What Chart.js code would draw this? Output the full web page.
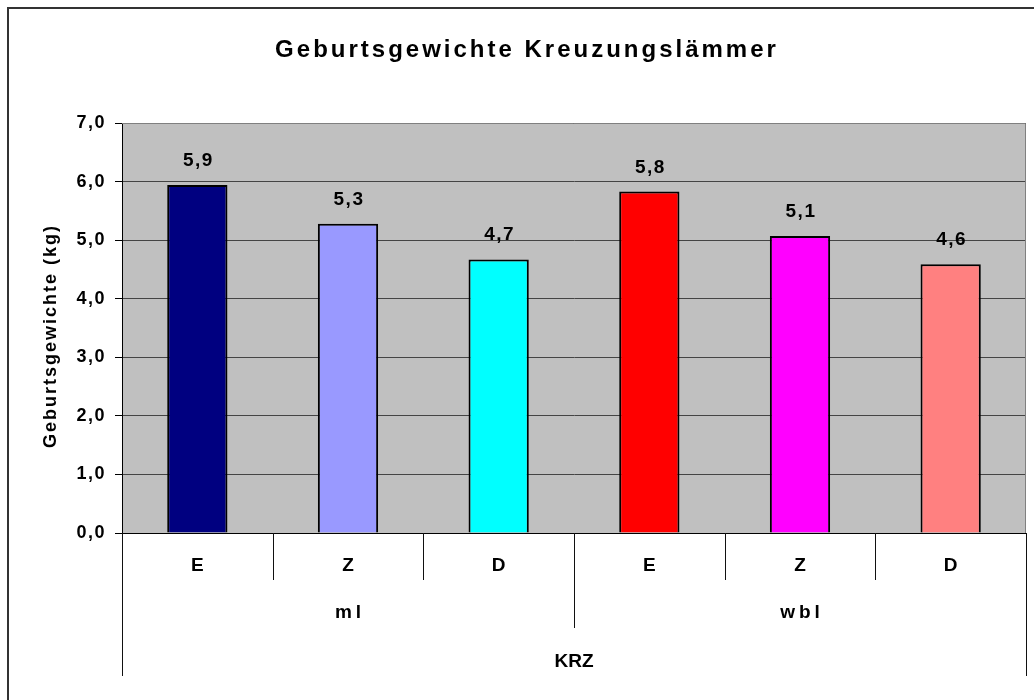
<!DOCTYPE html>
<html><head><meta charset="utf-8">
<script src="https://cdn.jsdelivr.net/npm/chart.js@4"></script>
<style>html,body{margin:0;padding:0;background:#fff}canvas{display:block}</style>
</head><body>
<canvas id="c" width="1034" height="700"></canvas>
<script>
const titleText = 'Geburtsgewichte Kreuzungslämmer';
const yAxisTitle = 'Geburtsgewichte (kg)';
const categories = ['E', 'Z', 'D', 'E', 'Z', 'D'];
const groups = ['ml', 'wbl'];
const groupSizes = [3, 3];
const outerLabel = 'KRZ';
const values = [5.94, 5.28, 4.67, 5.83, 5.07, 4.59];
const barColors = ['#000080', '#9999FF', '#00FFFF', '#FF0000', '#FF00FF', '#FF8080'];
const yMin = 0, yMax = 7, yStep = 1;

const FONT = "'Liberation Sans', Arial, sans-serif";
const fmt = v => v.toFixed(1).replace('.', ',');

const decor = {
  id: 'decor',
  beforeDraw(chart) {
    const {ctx, chartArea: a} = chart;
    ctx.save();
    ctx.fillStyle = '#fff';
    ctx.fillRect(0, 0, chart.width, chart.height);
    ctx.fillStyle = '#C0C0C0';
    ctx.fillRect(a.left, a.top, a.right - a.left, a.bottom - a.top);
    ctx.restore();
    ctx.letterSpacing = '1.5px';
  },
  beforeDatasetsDraw(chart) {
    const {ctx, chartArea: a} = chart;
    ctx.save();
    ctx.strokeStyle = '#808080';
    ctx.lineWidth = 1;
    ctx.beginPath();
    ctx.moveTo(a.left, a.top + 0.5);
    ctx.lineTo(a.right - 0.5, a.top + 0.5);
    ctx.lineTo(a.right - 0.5, a.bottom);
    ctx.stroke();
    ctx.restore();
  },
  afterDraw(chart) {
    const {ctx, chartArea: a} = chart;
    const xs = chart.scales.x;
    ctx.save();
    // outer frame
    ctx.strokeStyle = '#333';
    ctx.lineWidth = 2;
    ctx.beginPath();
    ctx.moveTo(8, chart.height);
    ctx.lineTo(8, 8);
    ctx.lineTo(chart.width, 8);
    ctx.stroke();

    ctx.fillStyle = '#000';
    // title
    ctx.font = 'bold 24px ' + FONT;
    ctx.letterSpacing = '3px';
    ctx.textAlign = 'center';
    ctx.textBaseline = 'alphabetic';
    ctx.fillText(titleText, 527, 57);

    // y axis title
    ctx.save();
    ctx.font = 'bold 18px ' + FONT;
    ctx.letterSpacing = '2px';
    ctx.translate(51, (a.top + a.bottom) / 2 + 8);
    ctx.rotate(-Math.PI / 2);
    ctx.textBaseline = 'middle';
    ctx.fillText(yAxisTitle, 0, 0);
    ctx.restore();

    // value labels
    ctx.font = 'bold 19px ' + FONT;
    ctx.letterSpacing = '1.5px';
    const meta = chart.getDatasetMeta(0);
    meta.data.forEach((el, i) => {
      ctx.fillText(fmt(values[i]), el.x + 1, el.y - 19);
    });

    // category separators
    const n = categories.length;
    const half = (xs.getPixelForValue(1) - xs.getPixelForValue(0)) / 2;
    const bx = k => xs.getPixelForValue(0) - half + 2 * half * k;
    const groupBounds = [0];
    groupSizes.forEach(s => groupBounds.push(groupBounds[groupBounds.length - 1] + s));
    ctx.strokeStyle = '#111';
    ctx.lineWidth = 1;
    for (let k = 0; k <= n; k++) {
      let depth = 47;
      if (k === 0 || k === n) depth = 143;
      else if (groupBounds.includes(k)) depth = 95;
      const x = Math.round(bx(k)) + 0.5;
      ctx.beginPath();
      ctx.moveTo(x, a.bottom);
      ctx.lineTo(x, a.bottom + depth);
      ctx.stroke();
    }

    // category labels
    ctx.font = 'bold 19px ' + FONT;
    ctx.letterSpacing = '1px';
    categories.forEach((c, i) => {
      ctx.fillText(c, xs.getPixelForValue(i) + 0.5, a.bottom + 38);
    });

    // group labels
    ctx.letterSpacing = '4px';
    groups.forEach((g, j) => {
      const cx = (bx(groupBounds[j]) + bx(groupBounds[j + 1])) / 2;
      ctx.fillText(g, cx + 2, a.bottom + 85);
    });

    // outer label
    ctx.letterSpacing = '0px';
    ctx.fillText(outerLabel, (bx(0) + bx(n)) / 2, a.bottom + 134);
    ctx.restore();
  }
};

new Chart(document.getElementById('c'), {
  type: 'bar',
  data: {
    labels: categories,
    datasets: [{
      data: values,
      backgroundColor: barColors,
      borderColor: '#000',
      borderWidth: 2,
      barPercentage: 0.4,
      categoryPercentage: 1.0
    }]
  },
  options: {
    responsive: false,
    animation: false,
    devicePixelRatio: 1,
    layout: {padding: {top: 123, right: 8, left: 0, bottom: 0}},
    plugins: {legend: {display: false}, tooltip: {enabled: false}, title: {display: false}},
    scales: {
      x: {
        ticks: {display: false},
        grid: {display: false},
        border: {display: true, color: '#000', width: 1},
        afterFit(s) { s.height = 167; }
      },
      y: {
        min: yMin, max: yMax,
        ticks: {
          stepSize: yStep,
          padding: 9,
          color: '#000',
          font: {family: FONT, size: 18, weight: 'bold'},
          callback: v => fmt(v)
        },
        grid: {color: '#444', lineWidth: 1, tickLength: 7, tickColor: '#000', drawTicks: true},
        border: {display: true, color: '#000', width: 1},
        afterFit(s) { s.width = 122; }
      }
    }
  },
  plugins: [decor]
});
</script>
</body></html>
